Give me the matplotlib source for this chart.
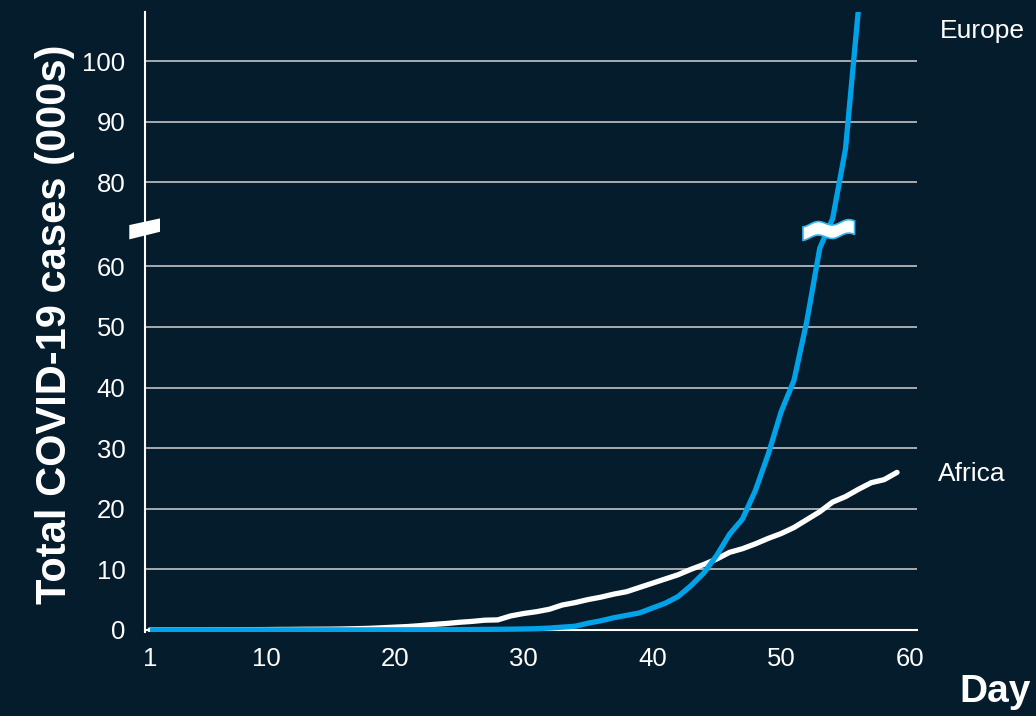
import numpy as np
import matplotlib
matplotlib.use("Agg")
import matplotlib.pyplot as plt
from matplotlib.patches import Polygon
from matplotlib.transforms import ScaledTranslation

# ---- data (thousands of cumulative cases, by day since first case) ----
days = list(range(1, 60))
africa = [0, 0, 0, 0, 0, 0.01, 0.02, 0.03, 0.04, 0.05,
          0.07, 0.08, 0.1, 0.11, 0.12, 0.15, 0.2, 0.25, 0.35, 0.45,
          0.55, 0.7, 0.9, 1.05, 1.25, 1.4, 1.6, 1.65, 2.3, 2.7,
          3.0, 3.4, 4.1, 4.5, 5.0, 5.4, 5.9, 6.3, 7.0, 7.7,
          8.4, 9.1, 10.0, 10.8, 11.7, 12.8, 13.4, 14.2, 15.1, 15.9,
          16.9, 18.2, 19.5, 21.1, 22.0, 23.2, 24.3, 24.8, 26.0]
europe_days = list(range(1, 57))
europe = [0, 0, 0, 0, 0, 0, 0, 0, 0, 0,
          0, 0, 0, 0, 0, 0, 0, 0, 0.01, 0.01,
          0.02, 0.02, 0.03, 0.04, 0.05, 0.06, 0.08, 0.1, 0.12, 0.15,
          0.2, 0.3, 0.45, 0.6, 1.1, 1.5, 2.0, 2.4, 2.8, 3.6,
          4.4, 5.5, 7.3, 9.4, 12.3, 15.8, 18.3, 23.0, 29.0, 36.0,
          41.2, 51.0, 63.0, 74.0, 85.5, 108.5]
xticks = [1, 10, 20, 30, 40, 50, 60]
yticks = [0, 10, 20, 30, 40, 50, 60, 80, 90, 100]

# ---- styling ----
BG = "#051c2c"
BLUE = "#00a3e8"
WHITE = "#ffffff"
GRID = "#c4c4c4"
FONT = "Liberation Sans"

plt.rcParams["font.family"] = [FONT, "DejaVu Sans"]

# broken axis: values between 64 and 72 are squeezed into a small band
BRK_LO, BRK_HI, BRK_SQ = 64.0, 72.0, 65.9
_xp = [-1e4, BRK_LO, BRK_HI, 1e4]
_fp = [-1e4, BRK_LO, BRK_SQ, 1e4 - (BRK_HI - BRK_SQ)]


def fwd(v):
    return np.interp(v, _xp, _fp)


def inv(d):
    return np.interp(d, _fp, _xp)


W, H = 1036, 716
fig = plt.figure(figsize=(W / 100, H / 100), dpi=100, facecolor=BG)
ax = fig.add_axes([145 / W, (H - 632) / H, (917 - 145) / W, (632 - 12) / H])
ax.set_facecolor(BG)

ax.set_yscale("function", functions=(fwd, inv))
ax.set_xlim(0.61, 60.55)
ax.set_ylim(-0.35, inv(102.0))

ax.set_xticks(xticks)
ax.set_xticklabels([str(t) for t in xticks])
ax.set_yticks(yticks)
ax.set_yticklabels([str(t) for t in yticks])
ax.tick_params(axis="both", length=0, colors=WHITE, labelsize=18.5)
ax.tick_params(axis="y", pad=14)
ax.tick_params(axis="x", pad=12)

ax.grid(axis="y", color=GRID, linewidth=1.2)
ax.grid(axis="x", visible=False)
ax.set_axisbelow(True)

for s in ["top", "right"]:
    ax.spines[s].set_visible(False)
for s in ["left", "bottom"]:
    ax.spines[s].set_color(WHITE)
    ax.spines[s].set_linewidth(1.5)
ax.spines["bottom"].set_position(("data", 0))

ax.plot(days, africa, color=WHITE, linewidth=3.8, solid_capstyle="round",
        solid_joinstyle="round", zorder=3)
ax.plot(europe_days, europe, color=BLUE, linewidth=3.8, solid_capstyle="butt",
        solid_joinstyle="round", zorder=4)

# ---- axis-break markers ----
px = 1 / 100.0  # one pixel in inches

# slanted block across the left spine
left_shape = np.array([[-15.7, 5.6], [15.0, 12.3], [15.0, -1.1], [-15.7, -8.7]]) * px
t_left = fig.dpi_scale_trans + ScaledTranslation(0, BRK_HI, ax.get_yaxis_transform())
ax.add_patch(Polygon(left_shape, closed=True, facecolor=WHITE, edgecolor="none",
                     transform=t_left, clip_on=False, zorder=6))

# wavy band across the steep curve
t = np.linspace(-1, 1, 60)
xs = 25.8 * t
top = 7.6 + 1.6 * t - 2.2 * np.sin(2 * np.pi * (t + 0.135) / 1.18)
bot = top - 13.5
wave = np.vstack([np.column_stack([xs, top]),
                  np.column_stack([xs[::-1], bot[::-1]])]) * px
t_wave = fig.dpi_scale_trans + ScaledTranslation(53.7, BRK_HI, ax.transData)
ax.add_patch(Polygon(wave, closed=True, facecolor=WHITE, edgecolor="#33b5f0",
                     linewidth=1.2, transform=t_wave, clip_on=False, zorder=6))

# ---- labels ----
fig.text(940 / W, 1 - 31 / H, "Europe", color=WHITE, fontsize=19,
         ha="left", va="center")
ax.annotate("Africa", xy=(days[-1], africa[-1]), xytext=(29.5, -1.5),
            textcoords="offset points", color=WHITE, fontsize=19,
            ha="left", va="center")
fig.text(55 / W, 1 - 324 / H, "Total COVID-19 cases (000s)", color=WHITE,
         fontsize=30, fontweight="bold", rotation=90, ha="center", va="center")
fig.text(1031 / W, 1 - 692 / H, "Day", color=WHITE, fontsize=28,
         fontweight="bold", ha="right", va="center")

fig.savefig("out.png", dpi=100, facecolor=BG)
